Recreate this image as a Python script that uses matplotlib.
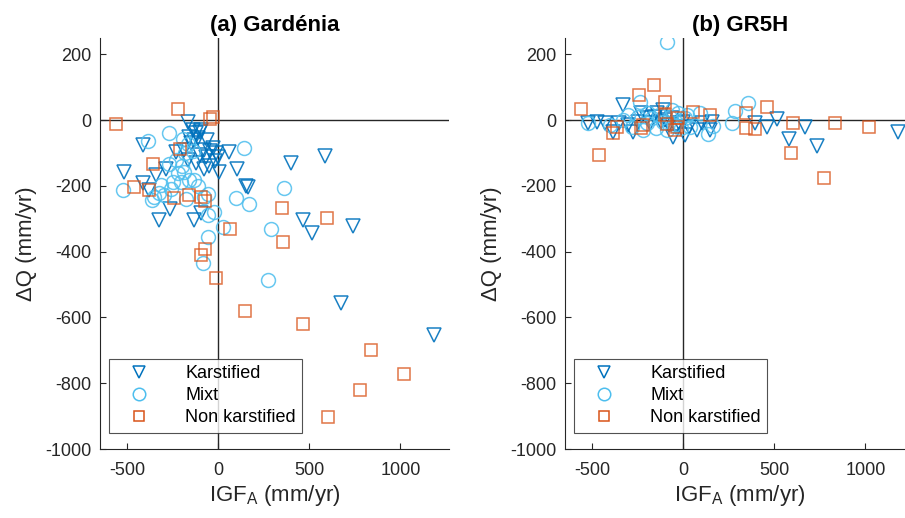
import matplotlib.pyplot as plt

plt.rcParams["font.family"] = ["Liberation Sans", "DejaVu Sans"]
plt.rcParams["axes.unicode_minus"] = False

GROUPS = ["Karstified", "Mixt", "Non karstified"]

# (a) Gardénia
gard_karst_x = [-165, -140, -120, -100, -160, -130, -110, -150, -95, -410, -232, -167, -122, -67, -30, -45,
                -10, 0, -20, -80, -100, 60, 5, 103, 152, -518, -287, -342, -413, -380, -323, -264, -134,
                -95, 163, 465, 516, 740, 674, 1186, 400, 588, -50, -75, -190, -60]
gard_karst_y = [-5, -30, -40, -35, -50, -60, -55, -70, -29, -75, -96, -120, -130, -112, -84, -95,
                -100, -111, -125, -90, -105, -96, -157, -150, -199, -157, -150, -166, -190, -212, -303, -270, -303,
                -282, -202, -303, -343, -321, -555, -653, -130, -108, -140, -150, -90, -60]
gard_mixt_x = [-270, -387, 143, -194, -166, -140, -180, -270, -221, -188, -161, -205, -133, -249, -315, -523,
               -326, -353, -78, -56, 98, 170, 362, 290, 274, -23, 25, -57, -84, -57, -361, -298, -230, -200,
               -110, -260, -175]
gard_mixt_y = [-39, -65, -84, -59, -74, -95, -100, -135, -160, -157, -181, -187, -181, -187, -196, -212,
               -222, -235, -235, -226, -236, -254, -205, -331, -486, -278, -326, -354, -433, -287, -242, -227, -120, -140,
               -200, -210, -240]
gard_nonk_x = [-562, -221, -29, -45, -210, -359, -462, -380, -243, -161, -95, -73, 349, 597, 354, 64, -73,
               -95, -12, 147, 465, 838, 1020, 776, 603]
gard_nonk_y = [-11, 35, 10, 2, -87, -132, -202, -212, -236, -227, -233, -245, -267, -297, -370, -331, -391,
               -409, -479, -580, -619, -698, -772, -820, -902]

# (b) GR5H
gr5h_karst_x = [-522, -429, -385, -330, -143, -275, -55, 11, 77, 148, 104, 159, 396, 461, 516, 582, 670,
                736, 1181, -470, -350, -300, -250, -200, -180, -160, -120, -100, -80, -60, -40, -20, 0, 30,
                -230, -110]
gr5h_karst_y = [-9, -9, -37, 46, 21, -37, -52, -46, -30, -30, -9, -6, -9, -21, 3, -58, -21,
                -79, -37, -5, -10, -15, -5, 5, -10, 10, -5, 0, -15, 5, -20, -10, -5, -20,
                20, 30]
gr5h_mixt_x = [-88, -236, -522, 286, 269, 137, 22, 357, 165, 93, -330, -280, -250, -220, -200, -170, -150,
               -130, -110, -90, -70, -50, -30, -10, 10, -190, -60, 40, -400, -300]
gr5h_mixt_y = [238, 55, -9, 27, -9, -43, 15, 52, -18, 21, 0, -20, 10, -30, -10, 5, -25,
               15, -5, -30, 10, -15, 20, -25, 5, 20, 30, -20, -15, 15]
gr5h_nonk_x = [-560, -462, -242, -159, -99, -385, -363, -220, -88, -99, -33, -44, -27, 55, 148, 346, 346,
               396, 461, 604, 835, 1022, 593, 775, -230]
gr5h_nonk_y = [33, -107, 76, 107, 55, -40, -21, -15, -12, 15, -21, -30, 6, 24, 15, 21, -24,
               -27, 40, -9, -9, -21, -100, -177, -25]

STYLES = {
    "Karstified": dict(marker="v", color="#0072BD", ms=10, alpha=0.9),
    "Mixt": dict(marker="o", color="#4DBEEE", ms=10, alpha=0.85),
    "Non karstified": dict(marker="s", color="#D95319", ms=8.5, alpha=0.8),
}


def draw_panel(ax, title, series):
    for name, (xs, ys) in zip(GROUPS, series):
        st = STYLES[name]
        ax.plot(xs, ys, linestyle="none", marker=st["marker"], ms=st["ms"], mfc="none",
                mec=st["color"], mew=1.1, alpha=st["alpha"], label=name)
    ax.axhline(0, color="#262626", lw=1.0, zorder=0)
    ax.axvline(0, color="#262626", lw=1.0, zorder=0)
    ax.set_xlim(-648, 1268)
    ax.set_ylim(-1000, 250)
    ax.set_xticks([-500, 0, 500, 1000])
    ax.set_yticks([-1000, -800, -600, -400, -200, 0, 200])
    ax.spines[["top", "right"]].set_visible(False)
    for side in ["left", "bottom"]:
        ax.spines[side].set_color("#262626")
        ax.spines[side].set_linewidth(0.8)
    ax.tick_params(direction="in", length=4, width=0.8, labelsize=13, colors="#262626")
    ax.tick_params(axis="x", pad=9)
    ax.tick_params(axis="y", pad=6)
    ax.set_title(title, fontsize=16, fontweight="bold", pad=5)
    ax.set_xlabel("IGF$_\\mathregular{A}$ (mm/yr)", fontsize=16, color="#262626", labelpad=3)
    ax.set_ylabel("ΔQ (mm/yr)", fontsize=16, color="#262626", labelpad=6)
    leg = ax.legend(loc="lower left", bbox_to_anchor=(0.025, 0.04), fontsize=13, frameon=True,
                    fancybox=False, edgecolor="#262626", borderpad=0.35, labelspacing=0.28,
                    handlelength=2.6, handletextpad=1.3, borderaxespad=0.0, markerscale=0.9)
    leg.get_frame().set_linewidth(0.8)
    for h in leg.legend_handles:
        h.set_alpha(1.0)


fig = plt.figure(figsize=(9.05, 5.18), dpi=100)
ax1 = fig.add_axes([0.1105, 0.133, 0.386, 0.794])
ax2 = fig.add_axes([0.6243, 0.133, 0.386, 0.794])

draw_panel(ax1, "(a) Gardénia",
           [(gard_karst_x, gard_karst_y), (gard_mixt_x, gard_mixt_y), (gard_nonk_x, gard_nonk_y)])
draw_panel(ax2, "(b) GR5H",
           [(gr5h_karst_x, gr5h_karst_y), (gr5h_mixt_x, gr5h_mixt_y), (gr5h_nonk_x, gr5h_nonk_y)])

fig.savefig("out.png", dpi=100)
